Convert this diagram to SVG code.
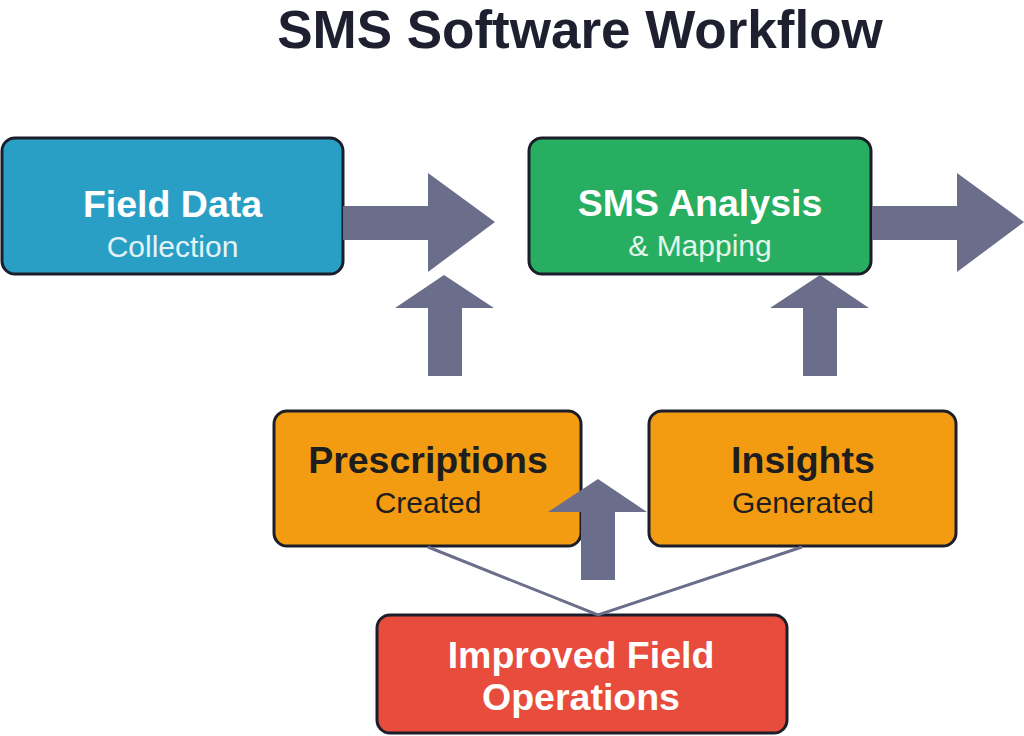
<svg xmlns="http://www.w3.org/2000/svg" width="1024" height="736" viewBox="0 0 1024 736">
<style>
.box{stroke:#1b1e2a;stroke-width:3}
.t{font-family:"Liberation Sans",Arial,sans-serif;text-anchor:middle}
.b{font-weight:bold;font-size:37.5px}
.s{font-size:30px}
.arr{fill:#6b6e8a}
.ln{stroke:#6b6e8a;stroke-width:3;fill:none}
</style>
<rect width="1024" height="736" fill="#ffffff"/>
<text class="t" x="580" y="48" font-size="53" font-weight="bold" fill="#1e2030">SMS Software Workflow</text>
<g id="node-field-data">
<rect class="box" x="2" y="138" width="341" height="136" rx="13" fill="#2a9fc5"/>
<text class="t b" x="172.5" y="217" fill="#ffffff">Field Data</text>
<text class="t s" x="172.5" y="257" fill="#e3f3f8">Collection</text>
</g>
<g id="node-sms-analysis">
<rect class="box" x="529" y="138" width="342" height="136" rx="13" fill="#27ae60"/>
<text class="t b" x="700" y="216" fill="#ffffff">SMS Analysis</text>
<text class="t s" x="700" y="256" fill="#e3f6ea">&amp; Mapping</text>
</g>
<g id="node-prescriptions">
<rect class="box" x="274" y="411" width="307" height="135" rx="13" fill="#f39c12"/>
<text class="t b" x="428" y="473" fill="#1e1e1e">Prescriptions</text>
<text class="t s" x="428" y="513" fill="#1e1e1e">Created</text>
</g>
<g id="node-insights">
<rect class="box" x="649" y="411" width="307" height="135" rx="13" fill="#f39c12"/>
<text class="t b" x="803" y="473" fill="#1e1e1e">Insights</text>
<text class="t s" x="803" y="513" fill="#1e1e1e">Generated</text>
</g>
<g id="node-improved">
<rect class="box" x="377" y="615" width="410" height="118" rx="13" fill="#e74c3c"/>
<text class="t b" x="581" y="668" fill="#ffffff">Improved Field</text>
<text class="t b" x="581" y="710" fill="#ffffff">Operations</text>
</g>
<g id="connectors">
<polygon class="arr" points="343,206 428,206 428,173 495,222 428,272 428,240 343,240"/>
<polygon class="arr" points="872,206 957,206 957,173 1024,222 957,272 957,240 872,240"/>
<polygon class="arr" points="444,275 494,308 462,308 462,376 428,376 428,308 395,308"/>
<polygon class="arr" points="820,275 869,308 837,308 837,376 803,376 803,308 770,308"/>
<polygon class="arr" points="598,479 647,512 615,512 615,580 581,580 581,512 548,512"/>
<polyline class="ln" points="428,547 598,615 802,547"/>
</g>
</svg>
